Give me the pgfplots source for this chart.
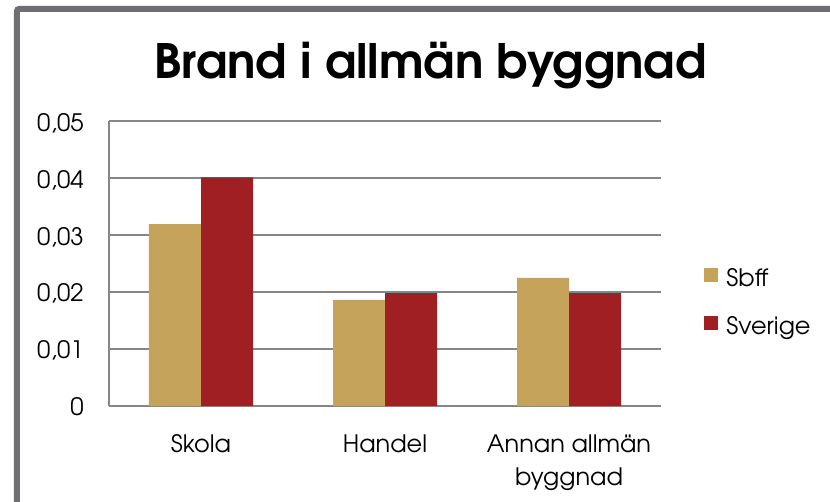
\documentclass[border=0pt]{standalone}
\usepackage{pgfplots}
\pgfplotsset{compat=1.18}
\usepackage{fontspec}
\setmainfont{TeX Gyre Adventor}
\definecolor{gold}{RGB}{197,163,90}
\definecolor{brred}{RGB}{160,31,34}
\definecolor{gridgray}{RGB}{134,134,134}
\definecolor{framegray}{RGB}{110,110,115}
\pgfplotsset{sqlegend/.style={legend image code/.code={\fill[##1, draw=none] (0pt,1.9pt) rectangle (6.8pt,8.8pt);}}}
\begin{document}
\begin{tikzpicture}
\useasboundingbox (-54.5pt,-48pt) rectangle (360.5pt,203pt);
\begin{scope}
\clip (-54.5pt,-48pt) rectangle (360.5pt,203pt);
\draw[framegray, line width=3pt, rounded corners=1pt] (-46pt,-150pt) -- (-46pt,198.5pt) -- (500pt,198.5pt);
\end{scope}
\begin{axis}[
 at={(0pt,0pt)}, anchor=south west,
 scale only axis, width=276pt, height=142.5pt,
 xmin=-0.5, xmax=2.5, ymin=0, ymax=0.05,
 ybar=0pt, bar width=26pt,
 axis x line*=bottom, axis y line*=left,
 axis line style={gridgray, line width=0.65pt, -},
 ymajorgrids, grid style={gridgray, line width=0.65pt},
 major tick length=0pt,
 xtick={0,1,2}, xticklabels={Skola,Handel,{Annan allmän\\byggnad}},
 ytick={0,0.01,0.02,0.03,0.04,0.05},
 scaled y ticks=false,
 yticklabel style={/pgf/number format/fixed, /pgf/number format/precision=2, /pgf/number format/use comma, /pgf/number format/assume math mode=true,
   font=\fontsize{12}{14}\selectfont, anchor=base east, inner sep=0pt, xshift=-12.5pt, yshift=-5pt},
 xticklabel style={font=\fontsize{12}{16.5}\selectfont, align=center, inner sep=0pt, anchor=north, yshift=-14pt},
 title={Brand i allmän byggnad},
 title style={at={(0.5824,1.1053)}, anchor=base, font=\fontsize{23.7}{28}\selectfont\bfseries, inner sep=0pt},
 legend style={at={(1.078,0.484)}, anchor=north west, draw=none, fill=none, inner sep=0pt, outer sep=0pt,
   row sep=12pt, column sep=4.4pt, font=\fontsize{12}{14}\selectfont,
   nodes={inner sep=0pt, text height=9pt, text depth=3pt, anchor=base west}},
 legend cell align=left,
]
\addplot[fill=gold, draw=none, sqlegend] coordinates {(0,0.0319) (1,0.0186) (2,0.0225)};
\addlegendentry{Sbff}
\addplot[fill=brred, draw=none, sqlegend] coordinates {(0,0.0401) (1,0.0198) (2,0.0198)};
\addlegendentry{Sverige}
\end{axis}
\end{tikzpicture}
\end{document}
